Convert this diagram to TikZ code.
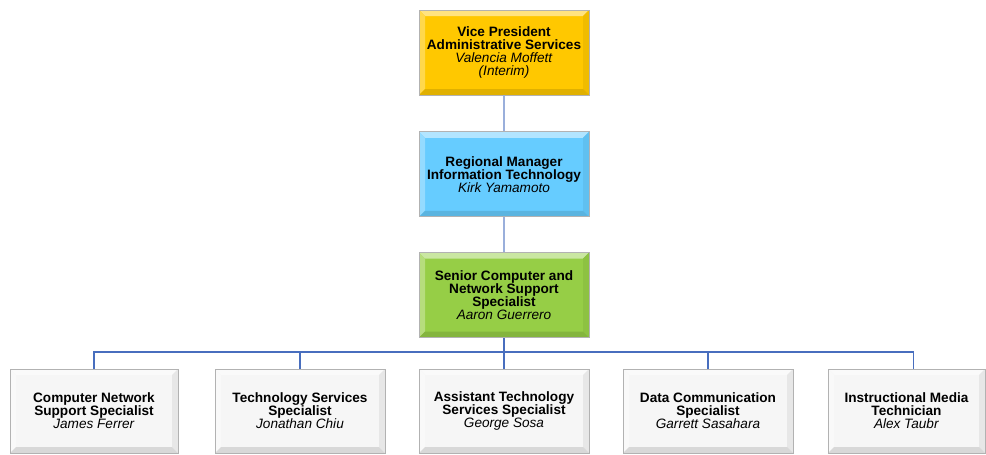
\documentclass[tikz,border=0pt]{standalone}
\usepackage{fontspec}
\setmainfont{Liberation Sans}
\usetikzlibrary{positioning,calc}

\definecolor{vpgold}{RGB}{255,200,0}
\definecolor{mgrblue}{RGB}{102,204,255}
\definecolor{snrgreen}{RGB}{150,206,70}
\definecolor{staffwhite}{RGB}{246,246,246}
\definecolor{linkblue}{RGB}{72,110,190}

\newcommand{\boxfont}{\fontsize{13.6}{12.9}\selectfont}

\begin{document}
\begin{tikzpicture}[
			x=1pt, y=-1pt,
			posbox/.style={draw=black!30, fill=#1, line width=0.8pt,
				minimum width=170pt, minimum height=85pt, inner sep=2pt,
				align=center, font=\boxfont,
				path picture={
					\fill[#1!50!white] (path picture bounding box.north west) -- (path picture bounding box.north east)
					-- ([shift={(-6pt,-6pt)}]path picture bounding box.north east) -- ([shift={(6pt,-6pt)}]path picture bounding box.north west) -- cycle;
					\fill[#1!70!white] (path picture bounding box.north west) -- (path picture bounding box.south west)
					-- ([shift={(6pt,6pt)}]path picture bounding box.south west) -- ([shift={(6pt,-6pt)}]path picture bounding box.north west) -- cycle;
					\fill[#1!94!black] (path picture bounding box.north east) -- (path picture bounding box.south east)
					-- ([shift={(-6pt,6pt)}]path picture bounding box.south east) -- ([shift={(-6pt,-6pt)}]path picture bounding box.north east) -- cycle;
					\fill[#1!88!black] (path picture bounding box.south west) -- (path picture bounding box.south east)
					-- ([shift={(-6pt,6pt)}]path picture bounding box.south east) -- ([shift={(6pt,6pt)}]path picture bounding box.south west) -- cycle;
				}},
			link/.style={draw=linkblue, line width=1.6pt},
			uplink/.style={draw=linkblue!55, line width=1.6pt}
			]
			\useasboundingbox (0,0) rectangle (986,455);
			
			% management chain
			\node[posbox=vpgold] (vp) at (504,52.5)
			{\textbf{Vice President}\\\textbf{Administrative Services}\\\textit{Valencia Moffett}\\\textit{(Interim)}};
			\node[posbox=mgrblue, below=36pt of vp] (itmgr)
			{\textbf{Regional Manager}\\\textbf{Information Technology}\\\textit{Kirk Yamamoto}};
			\node[posbox=snrgreen, below=35pt of itmgr] (snr)
			{\textbf{Senior Computer and}\\\textbf{Network Support}\\\textbf{Specialist}\\\textit{Aaron Guerrero}};
			
			% staff row
			\node[posbox=staffwhite, minimum width=168pt, minimum height=84pt] (netspec) at (94,411)
			{\textbf{Computer Network}\\\textbf{Support Specialist}\\\textit{James Ferrer}};
			\node[posbox=staffwhite, minimum height=84pt] (techspec) at (300,411)
			{\textbf{Technology Services}\\\textbf{Specialist}\\\textit{Jonathan Chiu}};
			\node[posbox=staffwhite, minimum height=84pt] (asstspec) at (504,411)
			{\textbf{Assistant Technology}\\\textbf{Services Specialist}\\\textit{George Sosa}};
			\node[posbox=staffwhite, minimum height=84pt] (dataspec) at (708,411)
			{\textbf{Data Communication}\\\textbf{Specialist}\\\textit{Garrett Sasahara}};
			\node[posbox=staffwhite, minimum width=157pt, minimum height=84pt] (mediatech) at (906.5,411)
			{\textbf{Instructional Media}\\\textbf{Technician}\\\textit{Alex Taubr}};
			
			% connectors
			\coordinate (bus) at (504,352);
			\draw[uplink] (vp) -- (itmgr);
			\draw[uplink] (itmgr) -- (snr);
			\draw[link] (snr) -- (bus);
			\draw[link] (bus) -| (netspec.north);
			\draw[link] (bus) -| (techspec.north);
			\draw[link] (bus) -- (asstspec);
			\draw[link] (bus) -| (dataspec.north);
			\draw[link] (bus) -| ([xshift=7pt]mediatech.north);
		\end{tikzpicture}
\end{document}
